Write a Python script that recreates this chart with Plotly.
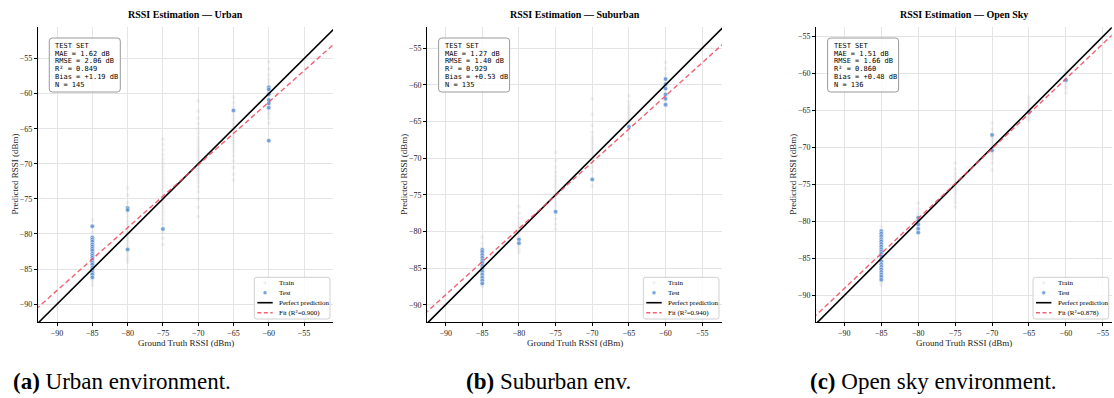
import plotly.graph_objects as go

W, H = 1114, 398

# ---------------- data ----------------
gt_levels = [-85, -80, -75, -70, -65, -60]

urban_train = [
    [-78.0, -79.0, -79.8, -80.5, -81.0, -81.5, -81.9, -82.3, -82.7, -83.0, -83.3, -83.6, -83.9, -84.2, -84.5, -84.8, -85.1, -85.4, -85.7, -86.0, -86.4, -86.8, -87.3],
    [-73.5, -74.5, -75.5, -76.3, -77.0, -77.6, -78.2, -78.7, -79.2, -79.6, -80.0, -80.4, -80.8, -81.2, -81.6, -82.0, -82.4, -82.8, -83.2, -83.6, -84.0],
    [-66.5, -67.3, -68.0, -68.7, -69.3, -69.9, -70.4, -70.9, -71.4, -71.9, -72.4, -72.9, -73.4, -73.9, -74.4, -74.9, -75.4, -75.9, -76.4, -76.9, -77.4, -77.9, -78.5, -79.1, -79.8, -80.6, -81.5],
    [-61.0, -62.5, -63.5, -64.3, -65.0, -65.6, -66.2, -66.7, -67.2, -67.7, -68.1, -68.5, -68.9, -69.3, -69.7, -70.1, -70.5, -70.9, -71.3, -71.7, -72.2, -72.7, -73.3, -74.0, -75.0, -76.2, -77.5],
    [-60.5, -61.3, -62.0, -62.6, -63.1, -63.6, -64.1, -64.5, -64.9, -65.3, -65.7, -66.1, -66.5, -66.9, -67.3, -67.8, -68.3, -68.9, -69.6, -70.5, -71.5, -72.3],
    [-55.5, -56.5, -57.3, -58.0, -58.5, -59.0, -59.4, -59.8, -60.2, -60.6, -61.0, -61.4, -61.8, -62.2, -62.6, -63.0, -63.5, -64.2],
]
urban_test = [
    [-78.9, -80.5, -80.8, -81.1, -81.5, -81.8, -82.1, -82.4, -82.8, -83.1, -83.4, -83.7, -84.1, -84.4, -84.8, -85.1, -85.5, -85.8, -86.2],
    [-76.3, -76.6, -82.2],
    [-79.3],
    [],
    [-62.4],
    [-59.1, -59.4, -60.1, -60.9, -61.4, -62.0, -66.7],
]

suburban_train = [
    [-80.8, -81.6, -82.2, -82.7, -83.1, -83.5, -83.9, -84.3, -84.7, -85.1, -85.5, -85.9, -86.3, -86.7, -87.1, -87.5],
    [-76.6, -77.5, -78.2, -78.8, -79.3, -79.7, -80.1, -80.5, -80.9, -81.3, -81.7, -82.1, -82.5, -82.9],
    [-69.2, -70.3, -71.2, -71.9, -72.5, -73.0, -73.5, -74.0, -74.5, -75.0, -75.5, -76.0, -76.5, -77.0, -77.6, -78.3, -79.0, -79.7],
    [-61.9, -64.0, -65.5, -66.5, -67.1, -67.6, -68.1, -68.6, -69.1, -69.6, -70.1, -70.6, -71.2, -71.9, -72.7, -73.8],
    [-61.5, -62.3, -62.8, -63.2, -63.6, -64.0, -64.4, -64.8, -65.2, -65.6, -66.0, -66.5, -67.4],
    [-56.9, -57.8, -58.5, -59.0, -59.5, -60.0, -60.5, -61.0, -61.5, -62.0, -62.4, -62.9],
]
suburban_test = [
    [-82.5, -82.8, -83.2, -83.6, -84.0, -84.3, -84.7, -85.1, -85.5, -85.9, -86.3, -86.7, -87.1],
    [-81.1, -81.6],
    [-77.3],
    [-72.9],
    [-65.7],
    [-59.2, -59.9, -60.5, -61.3, -61.9, -62.7],
]

opensky_train = [
    [-80.7, -81.5, -82.2, -82.8, -83.4, -84.0, -84.6, -85.2, -85.8, -86.4, -87.0, -87.6, -88.2, -88.6],
    [-77.5, -78.3, -78.9, -79.3, -79.7, -80.1, -80.5, -80.9, -81.3, -81.6],
    [-72.1, -72.9, -73.5, -74.0, -74.4, -74.8, -75.2, -75.6, -76.0, -76.4, -76.9, -77.4, -78.0],
    [-66.7, -67.5, -68.1, -68.6, -69.0, -69.4, -69.8, -70.2, -70.6, -71.0, -71.5, -72.1, -73.0],
    [-63.2, -63.7, -64.1, -64.5, -64.9, -65.3, -65.7, -66.0, -66.3],
    [-59.5, -60.0, -60.4, -60.8, -61.2, -61.6, -62.0, -62.6],
]
opensky_test = [
    [-81.3, -81.65, -82.0, -82.4, -82.7, -83.05, -83.4, -83.75, -84.1, -84.4, -84.75, -85.4, -85.8, -86.15, -86.5, -86.85, -87.2, -87.5, -87.9],
    [-79.5, -79.9, -80.4, -81.0, -81.5],
    [],
    [-68.3, -70.4],
    [-65.2],
    [-60.9],
]

# linear fit (slope, intercept) and its R^2, per environment
fit_slope = [0.895, 0.905, 0.945]
fit_intercept = [-7.5, -7.2, -4.0]
fit_r2 = ["0.900", "0.940", "0.878"]

env_names = ["Urban", "Suburban", "Open Sky"]
stat_mae = ["1.62", "1.27", "1.51"]
stat_rmse = ["2.06", "1.40", "1.66"]
stat_r2 = ["0.849", "0.929", "0.860"]
stat_bias = ["+1.19", "+0.53", "+0.48"]
stat_n = ["145", "135", "136"]

captions = ["(a)", "(b)", "(c)"]
caption_texts = ["Urban environment.", "Suburban env.", "Open sky environment."]

tick_vals = [-90, -85, -80, -75, -70, -65, -60, -55]

# ---------------- layout geometry (pixels) ----------------
PLOT_TOP, PLOT_BOT = 27, 322
panel_left = [38, 427.3, 816.3]
panel_right = [333, 722, 1111.7]
x_ranges = [[-92.7, -50.9], [-92.5, -52.3], [-93.8, -53.8]]
y_ranges = [[-92.55, -50.5], [-92.35, -52.1], [-93.6, -53.7]]
caption_centers = [122, 548.5, 933.5]

SERIF = "Liberation Serif"
MONO = "DejaVu Sans Mono"
TEST_COLOR = "rgba(70,130,205,0.72)"
TRAIN_COLOR = "rgba(150,150,150,0.11)"
FIT_COLOR = "rgba(240,70,90,0.85)"


def PX(x):
    return x / W


def PY(y):
    return 1 - y / H


def rrect_path(x0, y0, x1, y1, r):
    pts = [
        ("M", [(x0 + r, y0)]), ("L", [(x1 - r, y0)]), ("Q", [(x1, y0), (x1, y0 + r)]),
        ("L", [(x1, y1 - r)]), ("Q", [(x1, y1), (x1 - r, y1)]), ("L", [(x0 + r, y1)]),
        ("Q", [(x0, y1), (x0, y1 - r)]), ("L", [(x0, y0 + r)]), ("Q", [(x0, y0), (x0 + r, y0)]),
    ]
    s = ""
    for cmd, ps in pts:
        s += cmd + " " + " ".join(f"{PX(a):.5f},{PY(b):.5f}" for a, b in ps) + " "
    return s + "Z"


fig = go.Figure()
shapes = []
annotations = []
layout_axes = {}

trains = [urban_train, suburban_train, opensky_train]
tests = [urban_test, suburban_test, opensky_test]

for i in range(3):
    sfx = "" if i == 0 else str(i + 1)
    xa, ya = "x" + sfx, "y" + sfx
    L, R = panel_left[i], panel_right[i]
    xr, yr = x_ranges[i], y_ranges[i]

    # train
    tx, ty = [], []
    for lvl, col in zip(gt_levels, trains[i]):
        tx += [lvl] * len(col)
        ty += col
    fig.add_trace(go.Scatter(x=tx, y=ty, mode="markers", xaxis=xa, yaxis=ya,
                             marker=dict(size=4, color=TRAIN_COLOR, line=dict(width=0)),
                             showlegend=False, hoverinfo="skip"))
    # test
    sx, sy = [], []
    for lvl, col in zip(gt_levels, tests[i]):
        sx += [lvl] * len(col)
        sy += col
    fig.add_trace(go.Scatter(x=sx, y=sy, mode="markers", xaxis=xa, yaxis=ya,
                             marker=dict(size=4.5, color=TEST_COLOR, line=dict(width=0.5, color="white")),
                             showlegend=False, hoverinfo="skip"))
    # perfect prediction
    lo = min(xr[0], yr[0]) - 2
    hi = max(xr[1], yr[1]) + 2
    fig.add_trace(go.Scatter(x=[lo, hi], y=[lo, hi], mode="lines", xaxis=xa, yaxis=ya,
                             line=dict(color="black", width=1.6), showlegend=False, hoverinfo="skip"))
    # fit line
    fx = [lo, hi]
    fy = [fit_slope[i] * v + fit_intercept[i] for v in fx]
    fig.add_trace(go.Scatter(x=fx, y=fy, mode="lines", xaxis=xa, yaxis=ya,
                             line=dict(color=FIT_COLOR, width=1.4, dash="5px,3px"),
                             showlegend=False, hoverinfo="skip"))

    axis_common = dict(
        showgrid=True, gridcolor="#e4e4e4", gridwidth=1,
        zeroline=False, showline=True, linecolor="black", linewidth=1.2,
        ticks="outside", ticklen=3, tickwidth=0.8, tickcolor="black",
        tickvals=tick_vals, tickfont=dict(family=SERIF, size=8, color="#222"),
        mirror=False, fixedrange=True,
    )
    layout_axes["xaxis" + sfx] = dict(axis_common, domain=[PX(L), PX(R)], range=xr, anchor=ya)
    layout_axes["yaxis" + sfx] = dict(axis_common, domain=[PY(PLOT_BOT), PY(PLOT_TOP)], range=yr, anchor=xa)

    cx = (L + R) / 2
    # title
    annotations.append(dict(x=PX(cx), y=PY(14), xref="paper", yref="paper", showarrow=False,
                            text=f"<b>RSSI Estimation — {env_names[i]}</b>",
                            font=dict(family=SERIF, size=10, color="black"),
                            xanchor="center", yanchor="middle"))
    # axis titles
    annotations.append(dict(x=PX(cx), y=PY(343), xref="paper", yref="paper", showarrow=False,
                            text="Ground Truth RSSI (dBm)", font=dict(family=SERIF, size=9, color="#222"),
                            xanchor="center", yanchor="middle"))
    annotations.append(dict(x=PX(L - 24), y=PY((PLOT_TOP + PLOT_BOT) / 2), xref="paper", yref="paper",
                            showarrow=False, text="Predicted RSSI (dBm)", textangle=-90,
                            font=dict(family=SERIF, size=9, color="#222"),
                            xanchor="center", yanchor="middle"))

    # stats box
    bx0, by0 = L + 11.3, PLOT_TOP + 11
    bx1, by1 = bx0 + 71, by0 + 54
    shapes.append(dict(type="path", xref="paper", yref="paper",
                       path=rrect_path(bx0, by0, bx1, by1, 3),
                       line=dict(color="#9a9a9a", width=1), fillcolor="rgba(255,255,255,0.85)"))
    lines = ["TEST SET", f"MAE = {stat_mae[i]} dB", f"RMSE = {stat_rmse[i]} dB",
             f"R² = {stat_r2[i]}", f"Bias = {stat_bias[i]} dB", f"N = {stat_n[i]}"]
    for k, t in enumerate(lines):
        annotations.append(dict(x=PX(bx0 + 4), y=PY(by0 + 7.7 + k * 7.85), xref="paper", yref="paper",
                                showarrow=False, text=t, font=dict(family=MONO, size=7, color="black"),
                                xanchor="left", yanchor="middle"))

    # legend (manual)
    lx1, ly1 = R - 3, PLOT_BOT - 3
    lx0, ly0 = lx1 - 75.7, ly1 - 41.7
    shapes.append(dict(type="path", xref="paper", yref="paper",
                       path=rrect_path(lx0, ly0, lx1, ly1, 2.5),
                       line=dict(color="#d0d0d0", width=1), fillcolor="rgba(255,255,255,0.85)"))
    leg_labels = ["Train", "Test", "Perfect prediction", f"Fit (R²={fit_r2[i]})"]
    for k, lab in enumerate(leg_labels):
        yy = ly0 + 5.4 + k * 10
        annotations.append(dict(x=PX(lx0 + 23), y=PY(yy), xref="paper", yref="paper", showarrow=False,
                                text=lab, font=dict(family=SERIF, size=7, color="black"),
                                xanchor="left", yanchor="middle"))
    mx = lx0 + 10.7
    y_tr = ly0 + 5.4
    shapes.append(dict(type="circle", xref="paper", yref="paper",
                       x0=PX(mx - 1.8), x1=PX(mx + 1.8), y0=PY(y_tr + 1.8), y1=PY(y_tr - 1.8),
                       fillcolor="rgba(150,150,150,0.12)", line=dict(width=0)))
    y_te = ly0 + 15.4
    shapes.append(dict(type="circle", xref="paper", yref="paper",
                       x0=PX(mx - 2.0), x1=PX(mx + 2.0), y0=PY(y_te + 2.0), y1=PY(y_te - 2.0),
                       fillcolor=TEST_COLOR, line=dict(width=0.5, color="white")))
    y_pp = ly0 + 25.4
    shapes.append(dict(type="line", xref="paper", yref="paper",
                       x0=PX(lx0 + 3), x1=PX(lx0 + 18.4), y0=PY(y_pp), y1=PY(y_pp),
                       line=dict(color="black", width=1.6)))
    y_ft = ly0 + 35.4
    shapes.append(dict(type="line", xref="paper", yref="paper",
                       x0=PX(lx0 + 3), x1=PX(lx0 + 18.4), y0=PY(y_ft), y1=PY(y_ft),
                       line=dict(color=FIT_COLOR, width=1.4, dash="4px,2.5px")))

    # caption
    annotations.append(dict(x=PX(caption_centers[i]), y=PY(381), xref="paper", yref="paper",
                            showarrow=False, text=f"<b>{captions[i]}</b> {caption_texts[i]}",
                            font=dict(family=SERIF, size=23, color="black"),
                            xanchor="center", yanchor="middle"))

fig.update_layout(
    width=W, height=H, margin=dict(l=0, r=0, t=0, b=0),
    paper_bgcolor="white", plot_bgcolor="white",
    showlegend=False, shapes=shapes, annotations=annotations,
    **layout_axes,
)

fig.write_html("out.html")
